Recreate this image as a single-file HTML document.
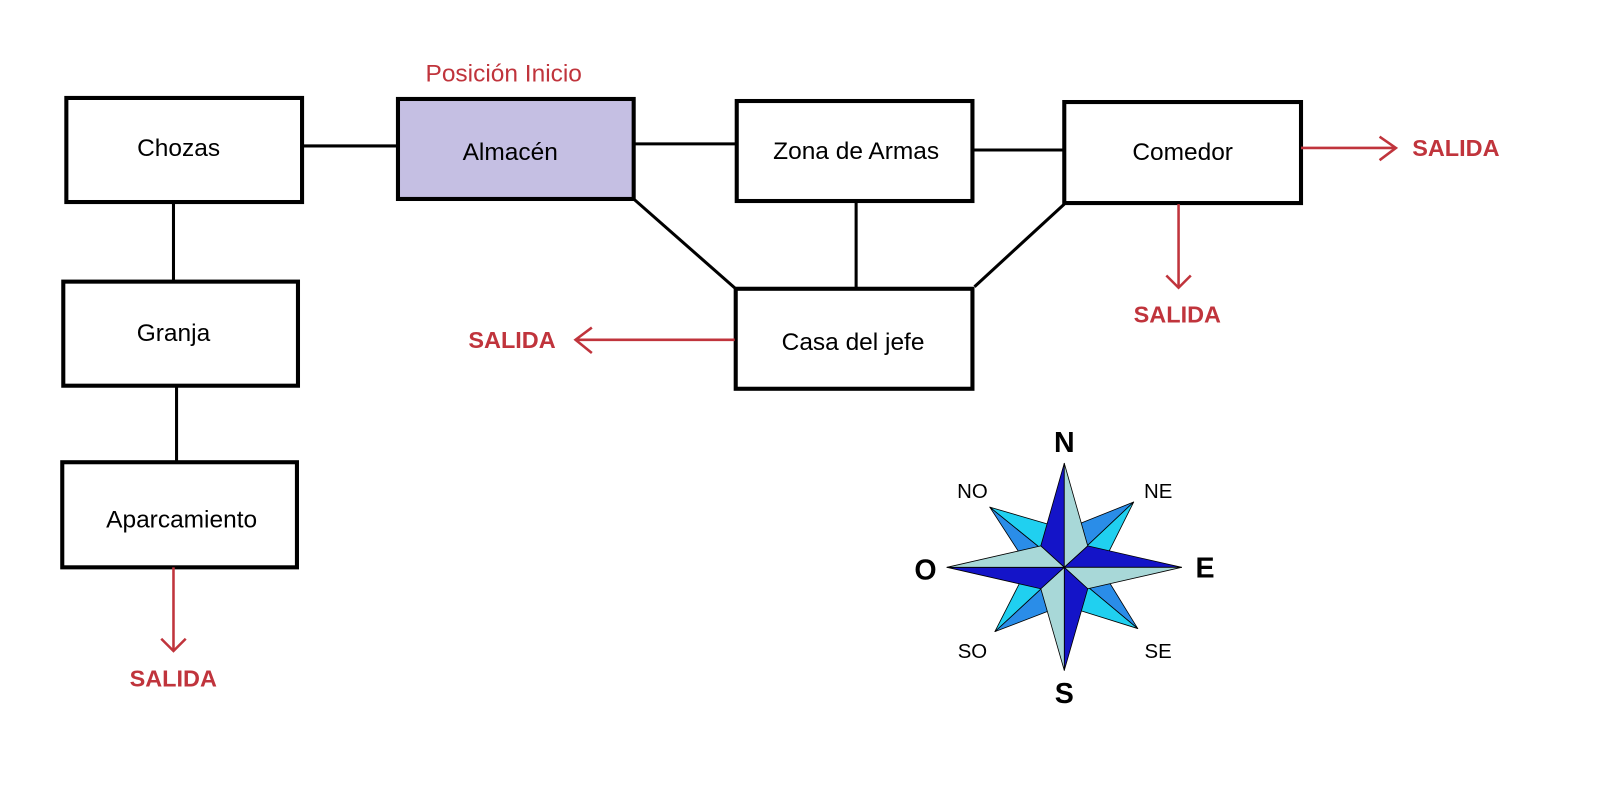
<!DOCTYPE html>
<html><head><meta charset="utf-8"><style>
html,body{margin:0;padding:0;background:#fff;}
svg{display:block;}
.b{font-family:"Liberation Sans",sans-serif;font-size:24px;fill:#000;text-anchor:middle;}
.r{font-family:"Liberation Sans",sans-serif;font-size:23px;fill:#c0343c;font-weight:bold;}
.c{font-family:"Liberation Sans",sans-serif;fill:#000;text-anchor:middle;}
</style></head><body>
<svg width="1600" height="801" viewBox="0 0 1568 785" xmlns="http://www.w3.org/2000/svg">
<g stroke="#000" stroke-width="3" fill="none">
<line x1="296" y1="143" x2="390" y2="143"/>
<line x1="621" y1="141" x2="722" y2="141"/>
<line x1="953" y1="147" x2="1043" y2="147"/>
<line x1="170" y1="198" x2="170" y2="276"/>
<line x1="173" y1="378" x2="173" y2="453"/>
<line x1="621" y1="195" x2="721" y2="283"/>
<line x1="839" y1="197" x2="839" y2="283"/>
<line x1="1043" y1="200" x2="955" y2="281"/>
</g>
<g stroke="#000" stroke-width="4">
<rect x="65" y="96" width="231" height="102" fill="#fff"/>
<rect x="390" y="97" width="231" height="98" fill="#c5bfe3"/>
<rect x="722" y="99" width="231" height="98" fill="#fff"/>
<rect x="1043" y="100" width="232" height="99" fill="#fff"/>
<rect x="62" y="276" width="230" height="102" fill="#fff"/>
<rect x="61" y="453" width="230" height="103" fill="#fff"/>
<rect x="721" y="283" width="232" height="98" fill="#fff"/>
</g>
<text class="b" x="175" y="153">Chozas</text>
<text class="b" x="500" y="157">Almacén</text>
<text class="b" x="839" y="156">Zona de Armas</text>
<text class="b" x="1159" y="157">Comedor</text>
<text class="b" x="170" y="334">Granja</text>
<text class="b" x="178" y="517">Aparcamiento</text>
<text class="b" x="836" y="343">Casa del jefe</text>
<text class="r" x="417" y="80" style="font-weight:normal;font-size:24px">Posición Inicio</text>
<g stroke="#c0343c" stroke-width="2.5" fill="none">
<line x1="1275" y1="145" x2="1368" y2="145"/><polyline points="1352,134 1368,145 1352,157"/>
<line x1="1155" y1="200" x2="1155" y2="282"/><polyline points="1143,270 1155,282 1167,270"/>
<line x1="720" y1="333" x2="564" y2="333"/><polyline points="580,321 564,333 580,346"/>
<line x1="170" y1="556" x2="170" y2="638"/><polyline points="158,626 170,638 182,626"/>
</g>
<text class="r" x="1384" y="153">SALIDA</text>
<text class="r" x="1111" y="316">SALIDA</text>
<text class="r" x="459" y="341">SALIDA</text>
<text class="r" x="127" y="673">SALIDA</text>
<g transform="translate(1043,556)" stroke="#000" stroke-width="0.8" stroke-linejoin="round">
<polygon points="0,0 68,-64 8,-40" fill="#2a8de8"/>
<polygon points="0,0 68,-64 40,-8" fill="#20d0f0"/>
<polygon points="0,0 72,60 40,8" fill="#2a8de8"/>
<polygon points="0,0 72,60 8,40" fill="#20d0f0"/>
<polygon points="0,0 -68,63 -8,40" fill="#2a8de8"/>
<polygon points="0,0 -68,63 -40,8" fill="#20d0f0"/>
<polygon points="0,0 -73,-59 -40,-8" fill="#2a8de8"/>
<polygon points="0,0 -73,-59 -8,-40" fill="#20d0f0"/>
<polygon points="0,-102 -23,-21 0,0" fill="#1414c8"/>
<polygon points="0,-102 23,-21 0,0" fill="#a8d8d8"/>
<polygon points="115,0 23,-21 0,0" fill="#1414c8"/>
<polygon points="115,0 23,21 0,0" fill="#a8d8d8"/>
<polygon points="0,101 23,21 0,0" fill="#1414c8"/>
<polygon points="0,101 -23,21 0,0" fill="#a8d8d8"/>
<polygon points="-115,0 -23,21 0,0" fill="#1414c8"/>
<polygon points="-115,0 -23,-21 0,0" fill="#a8d8d8"/>
</g>
<text class="c" x="1043" y="443" font-size="28" font-weight="bold">N</text>
<text class="c" x="1043" y="689" font-size="28" font-weight="bold">S</text>
<text class="c" x="1181" y="566" font-size="28" font-weight="bold">E</text>
<text class="c" x="907" y="568" font-size="28" font-weight="bold">O</text>
<text class="c" x="953" y="488" font-size="20">NO</text>
<text class="c" x="1135" y="488" font-size="20">NE</text>
<text class="c" x="953" y="645" font-size="20">SO</text>
<text class="c" x="1135" y="645" font-size="20">SE</text>
</svg>
</body></html>
